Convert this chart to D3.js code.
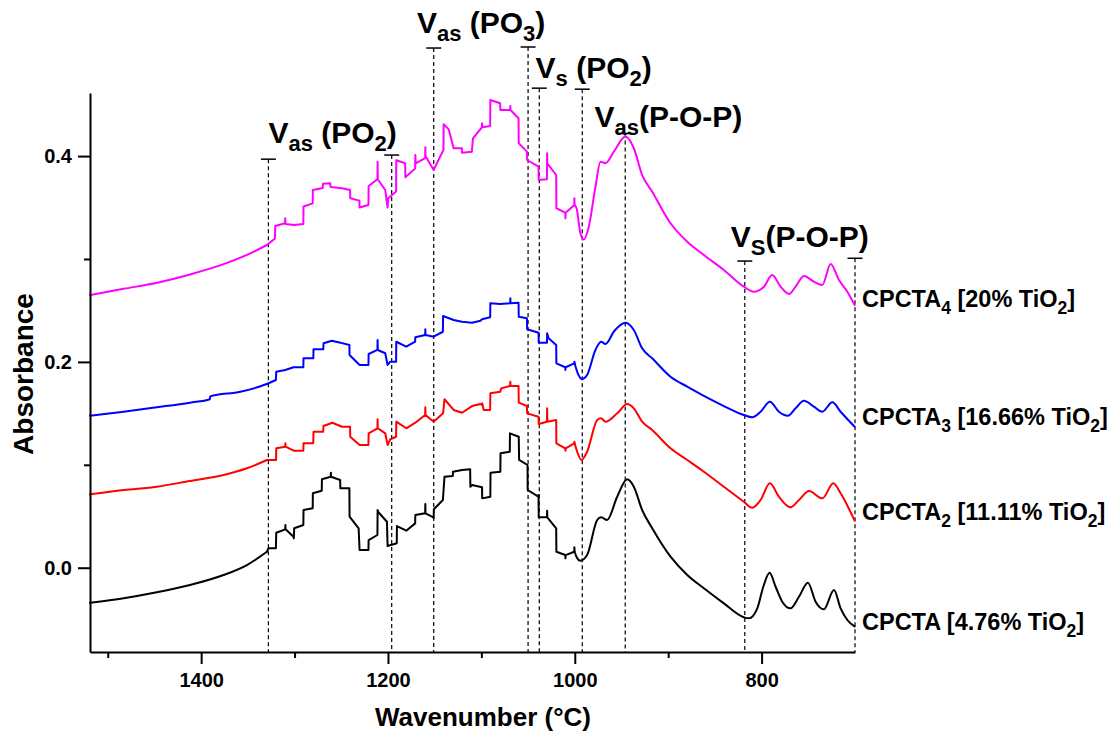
<!DOCTYPE html>
<html><head><meta charset="utf-8">
<script src="https://cdn.jsdelivr.net/npm/d3@7"></script>
<style>
body{margin:0;background:#fff}
svg{display:block;font-family:"Liberation Sans",Arial,Helvetica,sans-serif;font-weight:bold}
text{white-space:pre}
</style>
</head><body>
<svg id="chart" width="1117" height="733"></svg>
<script>
// ---------- DATA ----------
const seriesNames = ["CPCTA", "CPCTA2", "CPCTA3", "CPCTA4"];
const seriesColors = ["#000000", "#ff0000", "#0000ff", "#ff00ff"];
const seriesLabels = ["CPCTA [4.76% TiO_{2}]", "CPCTA_{2} [11.11% TiO_{2}]", "CPCTA_{3} [16.66% TiO_{2}]", "CPCTA_{4} [20% TiO_{2}]"];

// [wavenumber, absorbance]
const cpcta = [[1519,-0.034],[1483,-0.0297],[1447.5,-0.0239],[1412,-0.0168],[1376,-0.0071],[1351,0.0026],[1329.6,0.0155],[1328,0.0189],[1320,0.0189],[1319.6,0.034],[1310,0.0373],[1309.8,0.0415],[1309.6,0.0373],[1301.1,0.0301],[1300.8,0.0286],[1300.4,0.0383],[1290.6,0.0415],[1290.4,0.0561],[1280.6,0.0577],[1280.4,0.0723],[1270.9,0.0748],[1270.7,0.0859],[1261.3,0.0884],[1261.1,0.0923],[1260.9,0.0884],[1251.2,0.0852],[1251,0.0772],[1241.3,0.0772],[1241.1,0.0496],[1231.4,0.0383],[1230.4,0.0172],[1220.9,0.0172],[1220.7,0.0269],[1211.3,0.0318],[1211.1,0.0561],[1210.7,0.0544],[1201.1,0.0447],[1200.4,0.0211],[1190.6,0.0237],[1190.4,0.0405],[1180.4,0.036],[1170.9,0.0431],[1170.7,0.0512],[1160.2,0.0529],[1160,0.0619],[1159.8,0.0529],[1151.3,0.049],[1151.1,0.048],[1150.9,0.0568],[1141.2,0.0658],[1139.5,0.0884],[1130.6,0.0891],[1130.4,0.0933],[1120.7,0.0949],[1112,0.0956],[1111.8,0.0787],[1110,0.0804],[1099.3,0.0781],[1099.1,0.0674],[1090.4,0.069],[1090.2,0.0923],[1079.7,0.0933],[1079.5,0.1112],[1069.6,0.1127],[1069.4,0.1306],[1060,0.1273],[1059.6,0.1047],[1050.6,0.0998],[1050.4,0.0755],[1039,0.069],[1038.8,0.0707],[1038.6,0.049],[1029.8,0.049],[1029.6,0.0554],[1029.4,0.049],[1019.9,0.0383],[1019.7,0.0155],[1010.2,0.0123],[1010,0.0091],[1009.8,0.0123],[1000.6,0.0155],[1000.4,0.0198],[1000.2,0.0155],[998.2,0.0107],[994,0.0068],[986.8,0.0123],[976,0.0464],[971.8,0.049],[965.4,0.0464],[954.6,0.069],[943.9,0.0859],[936.8,0.0787],[927.9,0.0561],[917.1,0.0383],[897.5,0.0107],[879.6,-0.0071],[861.8,-0.02],[840.4,-0.0346],[819,-0.0482],[813.6,-0.0492],[804.6,-0.0395],[798.2,-0.0185],[791.4,-0.0049],[785,-0.0185],[777.9,-0.033],[769,-0.0395],[760,-0.0282],[750.4,-0.0146],[742.2,-0.033],[733.3,-0.0404],[722.5,-0.0217],[715.4,-0.0395],[708.2,-0.0508],[700.4,-0.057]];

const cpcta2 = [[1519,0.0713],[1483,0.0755],[1447.5,0.0787],[1412,0.0843],[1376,0.0901],[1351,0.0966],[1329.6,0.1047],[1319.8,0.1047],[1319.6,0.116],[1310,0.1176],[1309.8,0.1209],[1309.6,0.1176],[1301,0.1137],[1290.6,0.1137],[1290.4,0.1209],[1280,0.1209],[1279.7,0.1322],[1269.4,0.1322],[1269,0.1377],[1259.5,0.1409],[1249.3,0.137],[1240.6,0.137],[1240.4,0.1273],[1230.4,0.1192],[1220.9,0.1192],[1220.7,0.1306],[1211.3,0.1355],[1211.1,0.1442],[1210.9,0.1355],[1202.9,0.1306],[1200.4,0.1192],[1197.5,0.1248],[1191.3,0.1273],[1191.1,0.1419],[1180.4,0.1355],[1170.7,0.1409],[1160.2,0.1484],[1160,0.1559],[1159.8,0.1484],[1151.1,0.1419],[1141,0.15],[1139.5,0.1637],[1129.7,0.1533],[1120.7,0.1506],[1110,0.1571],[1101,0.1591],[1099.3,0.1581],[1099.1,0.1598],[1097.5,0.1533],[1090.6,0.1533],[1090.4,0.1695],[1079.7,0.171],[1078.9,0.1743],[1069.2,0.1766],[1069,0.1808],[1068.8,0.1766],[1060.2,0.1766],[1060,0.1604],[1051.2,0.1571],[1051,0.15],[1038.8,0.1467],[1038.6,0.1396],[1029.8,0.1419],[1029.6,0.1549],[1029.4,0.1419],[1019.9,0.1435],[1019.7,0.1209],[1010.2,0.116],[1010,0.1137],[1009.8,0.116],[1000.6,0.1209],[1000.4,0.1224],[1000.2,0.1209],[996.8,0.1112],[992.9,0.1047],[986.8,0.1127],[976,0.1435],[971.8,0.1452],[967.2,0.1419],[954.6,0.15],[943.9,0.1591],[936.8,0.1549],[927.9,0.1419],[917.1,0.1338],[897.5,0.116],[879.6,0.1047],[861.8,0.0933],[840.4,0.0787],[819,0.0641],[810,0.0583],[801.1,0.0658],[791.1,0.082],[781.5,0.069],[769,0.0587],[760,0.0658],[749.3,0.0745],[735,0.0674],[723.2,0.082],[715.4,0.0723],[700.4,0.0457]];

const cpcta3 = [[1519,0.1477],[1483,0.1516],[1447.5,0.1559],[1412,0.1604],[1390.6,0.1637],[1390.4,0.1665],[1358,0.171],[1340,0.1753],[1329.6,0.1785],[1320,0.1824],[1319.6,0.1905],[1310,0.1921],[1301.1,0.1948],[1290.6,0.1948],[1290.4,0.2035],[1279.9,0.2035],[1279.7,0.2122],[1269.2,0.2122],[1269,0.2181],[1260,0.2206],[1251,0.2187],[1241.3,0.2164],[1241.1,0.2067],[1230.4,0.197],[1220.9,0.197],[1220.7,0.2077],[1211.3,0.2116],[1211.1,0.2213],[1210.9,0.2116],[1202.9,0.2084],[1200.4,0.197],[1197.5,0.2002],[1191.3,0.2002],[1191.1,0.2196],[1180.4,0.2148],[1170.9,0.2196],[1170.7,0.2239],[1160.2,0.2261],[1160,0.2317],[1159.8,0.2261],[1151.1,0.2245],[1141.2,0.2293],[1141,0.2446],[1129.7,0.2407],[1120.7,0.2391],[1110,0.2381],[1101,0.24],[1099.3,0.2414],[1090.6,0.2434],[1090.4,0.257],[1079.7,0.2563],[1069.2,0.257],[1069,0.2618],[1068.8,0.257],[1060.2,0.2575],[1060,0.2439],[1051.2,0.2424],[1051,0.2317],[1038.8,0.2284],[1038.6,0.2187],[1029.8,0.2187],[1029.6,0.2278],[1028,0.2229],[1019.9,0.2164],[1019.7,0.1986],[1010.2,0.1948],[1010,0.1921],[1009.8,0.1948],[1000.6,0.1986],[1000.4,0.2002],[1000.2,0.1986],[996.8,0.1889],[992.2,0.1834],[986.8,0.1873],[977.9,0.2116],[971.8,0.2196],[967.2,0.2174],[957.5,0.2303],[945.7,0.2381],[936.8,0.231],[927.9,0.2132],[917.1,0.2035],[897.5,0.1856],[879.6,0.1759],[861.8,0.1669],[840.4,0.1571],[819,0.1484],[810,0.1462],[801.1,0.1516],[791.1,0.1613],[781.5,0.1516],[771.8,0.1477],[763.6,0.1549],[754.7,0.1623],[744,0.1565],[735,0.1516],[724.3,0.1607],[715.4,0.1516],[700.4,0.137]];

const cpcta4 = [[1519,0.265],[1483,0.271],[1447,0.277],[1412,0.285],[1376,0.295],[1351,0.304],[1329.6,0.3136],[1321,0.320],[1320.7,0.332],[1310.2,0.3347],[1310,0.3395],[1309.8,0.334],[1300.4,0.333],[1290.6,0.334],[1290.4,0.351],[1280.6,0.354],[1280.4,0.367],[1269.8,0.369],[1269.6,0.373],[1261.8,0.3735],[1261.5,0.370],[1249.3,0.3687],[1240.6,0.367],[1240.4,0.359],[1230.6,0.3567],[1230.4,0.350],[1220.9,0.3525],[1220.7,0.371],[1211.3,0.3775],[1211.1,0.3946],[1210.9,0.3775],[1202.9,0.367],[1200.4,0.350],[1199.8,0.359],[1191.3,0.3655],[1191.1,0.396],[1181.6,0.393],[1181.4,0.3794],[1170.9,0.388],[1170.7,0.401],[1170.4,0.393],[1160.2,0.398],[1160,0.4086],[1159.8,0.400],[1151.1,0.3865],[1140.6,0.406],[1140.4,0.431],[1135,0.426],[1129.7,0.4076],[1120.9,0.4076],[1120.7,0.4033],[1110.2,0.4043],[1109,0.4173],[1099.5,0.428],[1099.3,0.4319],[1099.1,0.428],[1090.6,0.4293],[1090.4,0.4545],[1079.9,0.4513],[1079.7,0.4448],[1069.2,0.4448],[1069,0.4487],[1068.8,0.4448],[1060.2,0.4367],[1060,0.4124],[1051.2,0.4043],[1051,0.3962],[1038.8,0.3897],[1038.6,0.3768],[1029.8,0.3775],[1029.6,0.4027],[1029.4,0.393],[1019.9,0.3816],[1019.7,0.3493],[1010.2,0.345],[1010,0.3395],[1009.8,0.345],[1000.6,0.3525],[1000.4,0.359],[1000.2,0.3525],[998,0.349],[994,0.325],[990.4,0.319],[985,0.3314],[977.9,0.370],[972.5,0.3946],[967.2,0.393],[958.2,0.4043],[945.7,0.419],[936.8,0.4076],[927.9,0.3816],[917.1,0.3654],[897.5,0.3347],[879.6,0.3168],[861.8,0.3039],[840.4,0.2893],[819,0.2731],[808.3,0.2682],[797.5,0.2731],[788.6,0.2845],[779.7,0.2731],[770.7,0.266],[763.6,0.2731],[754.7,0.2835],[744,0.278],[735,0.2747],[726.1,0.2951],[717.2,0.2796],[708.2,0.2682],[700.4,0.2553]];

const xTickValues = [1400, 1200, 1000, 800];
const xMinorTicks = [1500, 1300, 1100, 900];
const yTickValues = [0.0, 0.2, 0.4];
const yMinorTicks = [0.1, 0.3];

// band marker lines: wavenumber and top (absorbance units)
const bandLineWn  = [1328, 1196, 1151, 1050, 1038, 992, 946, 818, 700];
const bandLineTop = [0.397, 0.401, 0.505, 0.506, 0.466, 0.465, 0.422, 0.298, 0.3007];
const bandLabels  = ["V_{as} (PO_{2})", "V_{as} (PO_{3})", "V_{s} (PO_{2})", "V_{as}(P-O-P)", "V_{S}(P-O-P)"];
const bandLabelWn = [1328, 1169, 1042, 979, 833];
const bandLabelAbs = [0.4124, 0.5193, 0.4756, 0.428, 0.312];

const seriesLabelWn = 692.5;
const seriesLabelAbs = [-0.0605, 0.0464, 0.1387, 0.2536];

// stepped (noisy) region lies between these two wavenumbers; outside it the traces are smooth
const stepHigh = 1329.6;
const stepLow = 1000.2;

// ---------- CHART ----------
const svg = d3.select("#chart");
const x = d3.scaleLinear().domain([1519, 700]).range([90, 855]);
const y = d3.scaleLinear().domain([-0.0819, 0.4613]).range([652, 93]);

function richText(sel, str, size, subSize, subDy) {
  const parts = str.split(/(_\{[^}]*\})/).filter(s => s.length);
  let prevSub = false;
  parts.forEach(p => {
    const isSub = p.startsWith("_{");
    const t = isSub ? p.slice(2, -1) : p;
    const ts = sel.append("tspan").text(t).attr("font-size", isSub ? subSize : size);
    if (isSub && !prevSub) ts.attr("dy", subDy);
    else if (!isSub && prevSub) ts.attr("dy", -subDy);
    prevSub = isSub;
  });
}

// band dashed lines
const bands = svg.append("g");
bandLineWn.forEach((w, i) => {
  const px = x(w), top = y(bandLineTop[i]);
  bands.append("line").attr("x1", px).attr("x2", px).attr("y1", top).attr("y2", 652)
    .attr("stroke", "#000").attr("stroke-width", 1.2).attr("stroke-dasharray", "4,3");
  bands.append("line").attr("x1", px - 7.5).attr("x2", px + 7.5).attr("y1", top).attr("y2", top)
    .attr("stroke", "#000").attr("stroke-width", 1.5);
});

// series
const allSeries = [cpcta, cpcta2, cpcta3, cpcta4];
const lineStep = d3.line().x(d => x(d[0])).y(d => y(d[1])).curve(d3.curveLinear);
const lineSmooth = d3.line().x(d => x(d[0])).y(d => y(d[1])).curve(d3.curveMonotoneX);
allSeries.forEach((s, i) => {
  const g = svg.append("g").attr("fill", "none").attr("stroke", seriesColors[i])
    .attr("stroke-width", 2).attr("stroke-linejoin", "round").attr("stroke-linecap", "round");
  g.append("path").datum(s.filter(d => d[0] >= stepHigh)).attr("d", lineSmooth);
  g.append("path").datum(s.filter(d => d[0] <= stepHigh && d[0] >= stepLow)).attr("d", lineStep);
  g.append("path").datum(s.filter(d => d[0] <= stepLow)).attr("d", lineSmooth);
});

// axes
svg.append("g").attr("transform", "translate(0,652)")
  .call(d3.axisBottom(x).tickValues(xTickValues).tickSize(12).tickSizeOuter(0).tickPadding(9).tickFormat(d3.format("d")));
svg.append("g").attr("transform", "translate(0,652)")
  .call(d3.axisBottom(x).tickValues(xMinorTicks).tickSize(6).tickSizeOuter(0).tickFormat(""))
  .select(".domain").remove();
svg.append("g").attr("transform", "translate(90,0)")
  .call(d3.axisLeft(y).tickValues(yTickValues).tickSize(12).tickSizeOuter(0).tickPadding(6).tickFormat(d3.format(".1f")));
svg.append("g").attr("transform", "translate(90,0)")
  .call(d3.axisLeft(y).tickValues(yMinorTicks).tickSize(6).tickSizeOuter(0).tickFormat(""))
  .select(".domain").remove();
svg.selectAll(".domain, .tick line").attr("stroke", "#000").attr("stroke-width", 2);
svg.selectAll(".tick text").attr("font-size", 20).attr("font-weight", "bold")
  .attr("font-family", '"Liberation Sans",Arial,sans-serif').attr("fill", "#000");

// axis titles
svg.append("text").attr("x", 483).attr("y", 726).attr("text-anchor", "middle")
  .attr("font-size", 26).text("Wavenumber (°C)");
svg.append("text").attr("transform", "translate(33,374) rotate(-90)").attr("text-anchor", "middle")
  .attr("font-size", 28).text("Absorbance");

// band labels
bandLabels.forEach((lab, i) => {
  const t = svg.append("text").attr("x", x(bandLabelWn[i])).attr("y", y(bandLabelAbs[i]));
  richText(t, lab, 30, 22, 8);
});

// series labels
seriesLabels.forEach((lab, i) => {
  const t = svg.append("text").attr("x", x(seriesLabelWn)).attr("y", y(seriesLabelAbs[i]));
  richText(t, lab, 23.5, 17.5, 7);
});
</script>
</body></html>
